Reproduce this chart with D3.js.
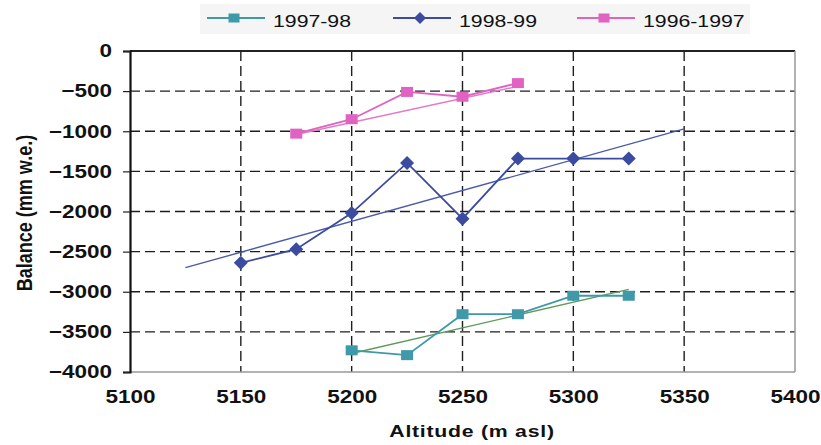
<!DOCTYPE html>
<html>
<head>
<meta charset="utf-8">
<script src="https://cdn.jsdelivr.net/npm/d3@7"></script>
<style>
  body { margin: 0; background: #fff; }
  text { font-family: "Liberation Sans", Arial, sans-serif; }
</style>
</head>
<body>
<svg id="chart" width="821" height="445"></svg>
<script>
// values
const altitudes9798 = [5200, 5225, 5250, 5275, 5300, 5325];
const balance9798 = [-3730, -3790, -3280, -3280, -3050, -3050];
const altitudes9899 = [5150, 5175, 5200, 5225, 5250, 5275, 5300, 5325];
const balance9899 = [-2640, -2470, -2020, -1395, -2090, -1340, -1340, -1340];
const altitudes9697 = [5175, 5200, 5225, 5250, 5275];
const balance9697 = [-1030, -850, -510, -570, -400];

// trend line end points, as drawn
const trend9798 = [[5200, -3770], [5325, -2970]];
const trend9899 = [[5125, -2700], [5350, -970]];
const trend9697 = [[5175, -1040], [5275, -440]];

const xTicks = [5100, 5150, 5200, 5250, 5300, 5350, 5400];
const yTicks = [0, -500, -1000, -1500, -2000, -2500, -3000, -3500, -4000];

const series = [
  {name: "1997-98", xs: altitudes9798, ys: balance9798, trend: trend9798,
   color: "#3f99a8", trendColor: "#5f9a5c", shape: "square"},
  {name: "1998-99", xs: altitudes9899, ys: balance9899, trend: trend9899,
   color: "#3a4ba0", trendColor: "#4a5aaa", shape: "diamond"},
  {name: "1996-1997", xs: altitudes9697, ys: balance9697, trend: trend9697,
   color: "#e063c3", trendColor: "#e07cc8", shape: "square"}
];

// the scanned chart is stretched sideways, so text gets a horizontal scale
const stretch = 1.25;
const margin = {top: 51, left: 130, right: 26, bottom: 73};
const width = 821, height = 445;
const svg = d3.select("#chart");

const x = d3.scaleLinear().domain([5100, 5400]).range([margin.left, width - margin.right]);
const y = d3.scaleLinear().domain([-4000, 0]).range([height - margin.bottom, margin.top]);

// legend background
svg.append("rect").attr("x", 200).attr("y", 4).attr("width", 550).attr("height", 30)
  .attr("fill", "#f5f5f5");

// gridlines
const grid = svg.append("g").attr("stroke", "#1e1e1e").attr("stroke-width", 1.4)
  .attr("stroke-dasharray", "10,5");
grid.selectAll(".hg").data(yTicks.slice(1, -1)).enter().append("line")
  .attr("x1", x(5100)).attr("x2", x(5400))
  .attr("y1", d => y(d)).attr("y2", d => y(d));
grid.selectAll(".vg").data(xTicks.slice(1, -1)).enter().append("line")
  .attr("y1", y(0)).attr("y2", y(-4000))
  .attr("x1", d => x(d)).attr("x2", d => x(d));

// plot frame
svg.append("line").attr("x1", x(5100)).attr("x2", x(5400)).attr("y1", y(0)).attr("y2", y(0))
  .attr("stroke", "#222").attr("stroke-width", 1.8);
svg.append("line").attr("x1", x(5400)).attr("x2", x(5400)).attr("y1", y(0)).attr("y2", y(-4000))
  .attr("stroke", "#999").attr("stroke-width", 1.5);
svg.append("line").attr("x1", x(5100)).attr("x2", x(5400)).attr("y1", y(-4000)).attr("y2", y(-4000))
  .attr("stroke", "#999").attr("stroke-width", 1.5);

// y axis
const yAxis = svg.append("g").attr("transform", `translate(${margin.left},0)`)
  .call(d3.axisLeft(y).tickValues(yTicks).tickSize(7).tickFormat(d3.format("d")));
yAxis.select(".domain").attr("stroke", "#111").attr("stroke-width", 2.2);
yAxis.selectAll(".tick line").attr("stroke", "#222").attr("stroke-width", 1.2);
yAxis.selectAll("text")
  .attr("x", -18 / stretch)
  .attr("transform", `scale(${stretch},1)`)
  .attr("font-size", 18).attr("font-weight", "bold").attr("fill", "#111")
  .style("font-family", "Liberation Sans, Arial, sans-serif");

// x axis
const xAxis = svg.append("g").attr("transform", `translate(0,${y(-4000)})`)
  .call(d3.axisBottom(x).tickValues(xTicks).tickSize(0).tickPadding(18).tickFormat(d3.format("d")));
xAxis.select(".domain").remove();
xAxis.selectAll("text")
  .attr("transform", `scale(${stretch},1)`)
  .attr("font-size", 18).attr("font-weight", "bold").attr("fill", "#111")
  .style("font-family", "Liberation Sans, Arial, sans-serif");

// axis titles
svg.append("text").attr("transform", `translate(472,437) scale(${stretch},1)`)
  .attr("text-anchor", "middle")
  .attr("font-size", 17).attr("font-weight", "bold").attr("fill", "#111")
  .attr("letter-spacing", 0.6).text("Altitude (m asl)");
svg.append("text").attr("transform", `translate(32,213) scale(${stretch},1) rotate(-90)`)
  .attr("text-anchor", "middle")
  .attr("font-size", 18).attr("font-weight", "bold").attr("fill", "#111")
  .text("Balance (mm w.e.)");

// series
const line = d3.line().x(d => x(d[0])).y(d => y(d[1]));
function drawMarker(g, shape, color, w, h) {
  if (shape === "square") {
    g.append("rect").attr("x", -w / 2).attr("y", -h / 2)
      .attr("width", w).attr("height", h).attr("fill", color);
  } else {
    g.append("path")
      .attr("d", `M0,${-h / 2}L${w / 2},0L0,${h / 2}L${-w / 2},0Z`)
      .attr("fill", color);
  }
}

series.forEach(s => {
  svg.append("path").datum(s.trend).attr("d", line)
    .attr("fill", "none").attr("stroke", s.trendColor).attr("stroke-width", 1.4);
  const pts = s.xs.map((v, i) => [v, s.ys[i]]);
  svg.append("path").datum(pts).attr("d", line)
    .attr("fill", "none").attr("stroke", s.color).attr("stroke-width", 1.8);
  pts.forEach(p => {
    const g = svg.append("g").attr("transform", `translate(${x(p[0])},${y(p[1])})`);
    if (s.shape === "square") drawMarker(g, s.shape, s.color, 12, 10);
    else drawMarker(g, s.shape, s.color, 14, 14);
  });
});

// legend
const legendX = [207, 393, 577];
series.forEach((s, i) => {
  const g = svg.append("g").attr("transform", `translate(${legendX[i]},18)`);
  g.append("line").attr("x1", 0).attr("x2", 58).attr("stroke", s.color).attr("stroke-width", 1.8);
  const m = g.append("g").attr("transform", "translate(27,0)");
  if (s.shape === "square") drawMarker(m, s.shape, s.color, 11, 9);
  else drawMarker(m, s.shape, s.color, 12, 12);
  g.append("text").attr("transform", `translate(66,9) scale(${stretch},1)`)
    .attr("font-size", 17).attr("fill", "#111")
    .text(s.name);
});
</script>
</body>
</html>
